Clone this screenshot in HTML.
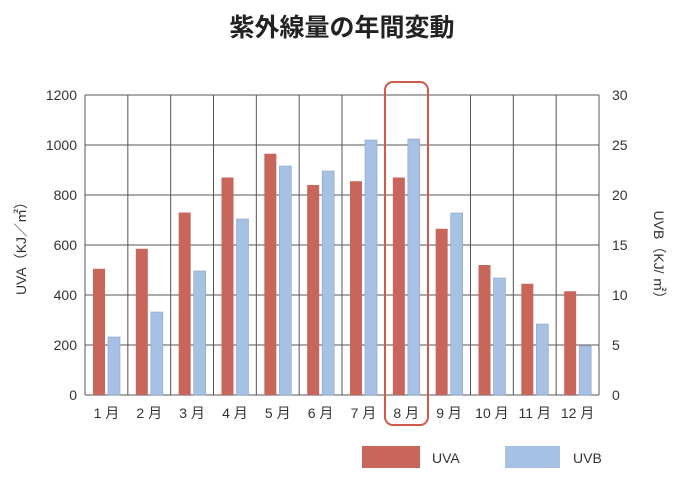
<!DOCTYPE html>
<html><head><meta charset="utf-8"><style>
body{margin:0;background:#fff;font-family:"Liberation Sans","Noto Sans CJK JP",sans-serif}
</style></head><body>
<svg width="692" height="497" xmlns="http://www.w3.org/2000/svg" style="font-family:'Liberation Sans','Noto Sans CJK JP',sans-serif">
<text x="342" y="36" text-anchor="middle" font-size="25" font-weight="bold" fill="#222">紫外線量の年間変動</text>
<g id="grid"></g><g id="bars"></g><g id="labels"></g>
<text transform="translate(26,245) rotate(-90)" text-anchor="middle" font-size="14" fill="#333">UVA（KJ／㎡）</text>
<text transform="translate(654,258) rotate(90)" text-anchor="middle" font-size="14" fill="#333">UVB（KJ/ ㎡）</text>
<rect x="385" y="82" width="43" height="343" rx="8" fill="none" stroke="#d05a4a" stroke-width="2"/>
<rect x="362" y="446" width="58" height="22" fill="#c9665c"/>
<text x="432" y="463" font-size="14" fill="#333">UVA</text>
<rect x="505" y="446" width="55" height="22" fill="#a7c1e5"/>
<text x="573" y="463" font-size="14" fill="#333">UVB</text>
</svg>
<script>
const months=["1月","2月","3月","4月","5月","6月","7月","8月","9月","10月","11月","12月"];
const uva=[505,585,730,870,965,840,855,870,665,520,445,415];
const uvb=[5.8,8.3,12.4,17.6,22.9,22.4,25.5,25.6,18.2,11.7,7.1,4.9];
const leftTicks=[0,200,400,600,800,1000,1200];
const rightTicks=[0,5,10,15,20,25,30];
const NS="http://www.w3.org/2000/svg";
const X0=85,X1=599,Y0=395,Y1=95;
const cw=(X1-X0)/months.length;
const yL=v=>Y0-(v/1200)*(Y0-Y1);
const yR=v=>Y0-(v/30)*(Y0-Y1);
function mk(t,a,p){const e=document.createElementNS(NS,t);for(const k in a)e.setAttribute(k,a[k]);p.appendChild(e);return e;}
const g=document.getElementById('grid'),b=document.getElementById('bars'),l=document.getElementById('labels');
leftTicks.forEach((v,i)=>{
 const ln=mk('line',{x1:X0,x2:X1,y1:yL(v),y2:yL(v),stroke:'#555','stroke-width':1},g);
 
 
 const t=mk('text',{x:X0-8,y:yL(v)+5,'text-anchor':'end','font-size':14,fill:'#333'},l);t.textContent=v;
 
 
});
rightTicks.forEach(v=>{
 const t=mk('text',{x:X1+13,y:yR(v)+5,'font-size':14,fill:'#333'},l);t.textContent=v;
 
 
});
for(let i=0;i<=months.length;i++){
 const x=X0+i*cw;
 const ln=mk('line',{x1:x,x2:x,y1:Y1,y2:Y0,stroke:'#555','stroke-width':1},g);
 
 
}
months.forEach((m,i)=>{
 const cx=X0+i*cw;
 const r=mk('rect',{x:cx+8,y:yL(uva[i]),width:12,height:Y0-yL(uva[i]),fill:'#c9665c'},b);
 
 
 const u=mk('rect',{x:cx+23,y:yR(uvb[i]),width:12,height:Y0-yR(uvb[i]),fill:'#a7c1e5',stroke:'#8aa3c8','stroke-width':0.6},b);
 
 
 const t=mk('text',{x:cx+cw/2,y:418,'text-anchor':'middle','font-size':14,fill:'#333'},l);
 t.textContent=m.replace('月',' 月');
 
 
});
</script>
</body></html>
